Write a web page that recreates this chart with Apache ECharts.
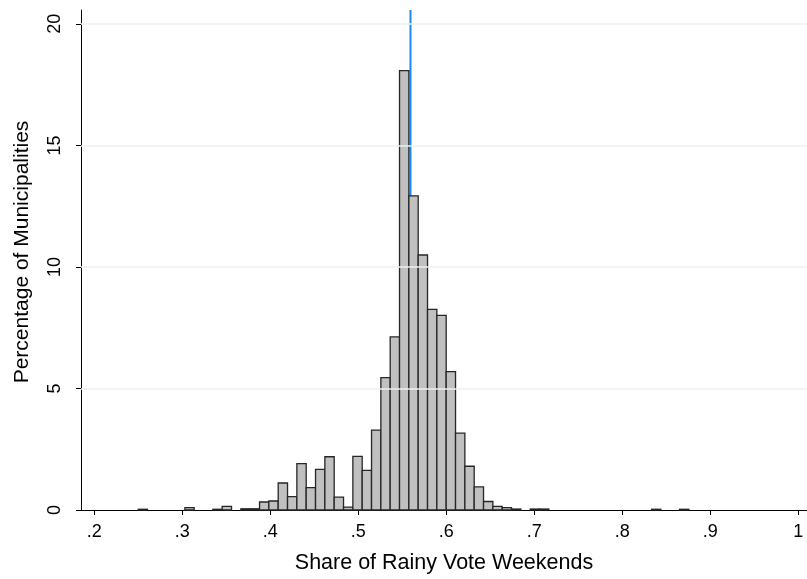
<!DOCTYPE html>
<html>
<head>
<meta charset="utf-8">
<script src="https://cdn.jsdelivr.net/npm/echarts@6/dist/echarts.min.js"></script>
<style>html,body{margin:0;padding:0;background:#fff}#c{width:807px;height:579px}</style>
</head>
<body>
<div id="c"></div>
<script>
// Histogram data (percent of municipalities per bin)
var binStart = 0.25;
var binWidth = 0.010606;
var binHeights = [
  0.03, 0, 0, 0, 0, 0.10, 0, 0, 0.03, 0.15,
  0, 0.05, 0.05, 0.33, 0.37, 1.11, 0.55, 1.91, 0.92, 1.67,
  2.19, 0.53, 0.12, 2.21, 1.63, 3.29, 5.45, 7.12, 18.08, 12.92,
  10.49, 8.25, 8.01, 5.69, 3.16, 1.80, 0.95, 0.35, 0.15, 0.10,
  0.04, 0, 0.04, 0.04, 0, 0, 0, 0, 0, 0,
  0, 0, 0, 0, 0, 0.03, 0, 0, 0.03
];
var referenceX = 0.5594;
var xTicks = [0.2, 0.3, 0.4, 0.5, 0.6, 0.7, 0.8, 0.9, 1.0];
var yTicks = [0, 5, 10, 15, 20];
var xTitle = 'Share of Rainy Vote Weekends';
var yTitle = 'Percentage of Municipalities';

var bars = [];
for (var i = 0; i < binHeights.length; i++) {
  if (binHeights[i] > 0) {
    bars.push([binStart + i * binWidth, binStart + (i + 1) * binWidth, binHeights[i]]);
  }
}

var chart = echarts.init(document.getElementById('c'), null, {renderer: 'canvas'});
var font = 'Liberation Sans, Arial, sans-serif';
chart.setOption({
  animation: false,
  backgroundColor: '#ffffff',
  grid: {left: 81, right: 0, top: 10, bottom: 68},
  xAxis: {
    type: 'value', min: 0.185, max: 1.01,
    name: xTitle, nameLocation: 'middle', nameGap: 42,
    nameTextStyle: {fontFamily: font, fontSize: 21.5, color: '#000'},
    axisLine: {show: true, onZero: false, lineStyle: {color: '#000', width: 1}},
    axisTick: {show: true, length: 5, customValues: xTicks, lineStyle: {color: '#000'}},
    axisLabel: {
      customValues: xTicks, margin: 13, fontFamily: font, fontSize: 18, color: '#000',
      formatter: function (v) { var s = (+v).toFixed(1); if (s === '1.0') return '1'; return s.replace(/^0/, ''); }
    },
    splitLine: {show: false}
  },
  yAxis: {
    type: 'value', min: 0, max: 20.57,
    name: yTitle, nameLocation: 'middle', nameGap: 48, nameRotate: 90,
    nameTextStyle: {fontFamily: font, fontSize: 21, color: '#000', padding: [0, 0, 0, 16]},
    axisLine: {show: true, lineStyle: {color: '#000', width: 1}},
    axisTick: {show: true, length: 5, customValues: yTicks, lineStyle: {color: '#000'}},
    axisLabel: {customValues: yTicks, rotate: 90, margin: 17, fontFamily: font, fontSize: 18, color: '#000'},
    splitLine: {show: false}
  },
  series: [
    {
      type: 'line', data: [], silent: true, z: 1,
      markLine: {
        silent: true, symbol: 'none', label: {show: false},
        lineStyle: {color: '#eaf1f3', width: 1.5, type: 'solid'},
        data: yTicks.filter(function (t) { return t > 0; }).map(function (t) { return {yAxis: t}; })
      }
    },
    {
      type: 'line', silent: true, z: 2, symbol: 'none',
      lineStyle: {color: '#1a86ff', width: 2},
      data: [[referenceX, 0], [referenceX, 20.57]]
    },
    {
      type: 'custom', z: 3, silent: true,
      data: bars,
      encode: {x: [0, 1], y: 2},
      renderItem: function (params, api) {
        var p0 = api.coord([api.value(0), api.value(2)]);
        var p1 = api.coord([api.value(1), 0]);
        return {
          type: 'rect',
          shape: {x: p0[0], y: p0[1], width: p1[0] - p0[0], height: p1[1] - p0[1]},
          style: {fill: '#c0c0c0', stroke: '#262626', lineWidth: 1.3}
        };
      }
    }
  ]
});
</script>
</body>
</html>
